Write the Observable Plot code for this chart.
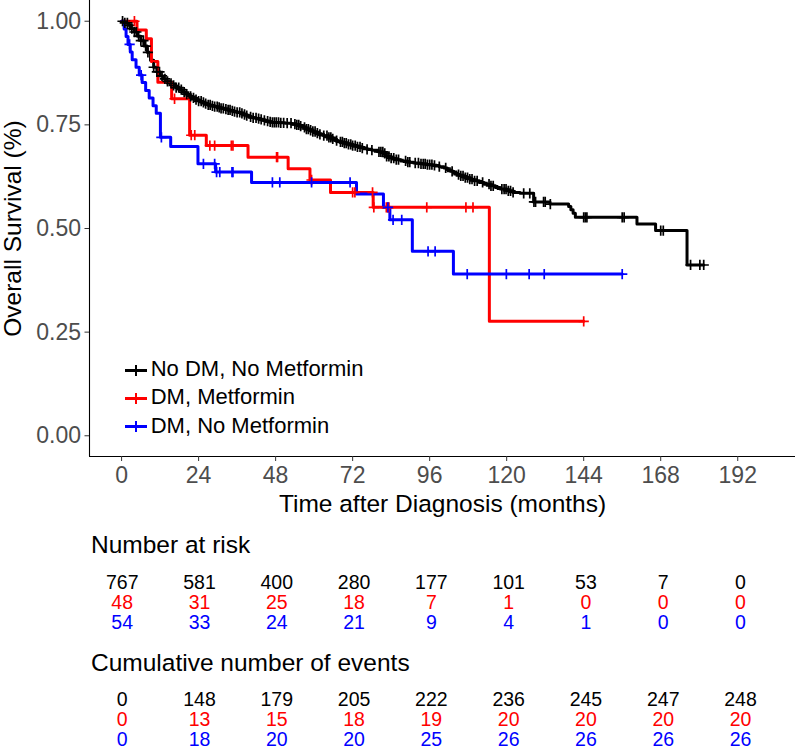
<!DOCTYPE html>
<html>
<head>
<meta charset="utf-8">
<script src="https://cdn.jsdelivr.net/npm/d3@7"></script>
<script src="https://cdn.jsdelivr.net/npm/@observablehq/plot@0.6"></script>
<style>
  body { margin: 0; background: #fff; font-family: "Liberation Sans", Arial, Helvetica, sans-serif; }
  #root { position: relative; width: 800px; height: 752px; overflow: hidden; background: #fff; }
  .hdr { position: absolute; left: 91px; font-size: 24.5px; line-height: 1; color: #000; white-space: nowrap; }
  .legend { position: absolute; left: 125px; top: 355px; font-size: 22px; line-height: 28.3px; color: #000; white-space: nowrap; }
  .row { height: 28.3px; }
  .key { display: inline-block; position: relative; width: 22px; height: 28.3px; vertical-align: top; margin-right: 3.7px; }
  .key .h { position: absolute; left: 0; top: 13.5px; width: 22px; height: 3px; }
  .key .v { position: absolute; left: 10px; top: 9.5px; width: 2px; height: 11px; }
</style>
</head>
<body>
<div id="root"></div>
<script>
// ---------- data ----------
const groups = ["No DM, No Metformin", "DM, Metformin", "DM, No Metformin"];
const colors = ["#000000", "#FF0000", "#0000FF"];

// Kaplan-Meier steps: time (months) and survival after each step
const noDmTime = [0,1,2,3,4,5,6,7,8,9,10,11,12,13,14,15,16,17,18,19,20,21,22,23,24,25,26,27,28,29,30,31,32,33,34,35,36,37,38,39,40,41,42,43,44,45,46,47,49,51,53,54.5,55.5,56.5,57.5,58.5,59.5,60.5,61.5,63,64.5,65.5,66.5,67.5,69,70.5,72,73.5,75,76.5,78,80,81.5,82.5,83.5,85,87,89,91,93,95,97,99,100.5,101.5,102.5,103.5,104.5,105.5,107,108.5,109.6,111.5,113,114.9,116.5,118,120.1,122,124.2,128.4,133.5,139.3,140,140.7,141.4,160.6,166.4,176.2];
const noDmSurv = [1,0.996,0.990,0.982,0.974,0.964,0.953,0.940,0.925,0.906,0.889,0.878,0.868,0.861,0.855,0.850,0.845,0.840,0.835,0.829,0.824,0.819,0.815,0.811,0.807,0.804,0.801,0.798,0.796,0.794,0.792,0.790,0.788,0.786,0.784,0.782,0.780,0.778,0.775,0.772,0.769,0.767,0.765,0.763,0.761,0.759,0.757,0.756,0.755,0.754,0.752,0.750,0.747,0.744,0.740,0.737,0.734,0.730,0.727,0.724,0.720,0.716,0.712,0.709,0.706,0.703,0.700,0.697,0.694,0.691,0.689,0.685,0.681,0.674,0.670,0.666,0.663,0.660,0.658,0.656,0.654,0.652,0.649,0.646,0.642,0.638,0.634,0.630,0.627,0.623,0.619,0.615,0.611,0.607,0.603,0.599,0.595,0.591,0.587,0.585,0.564,0.559,0.553,0.545,0.537,0.527,0.511,0.495,0.412];
const noDmCensor = [0.3,1,1.8,2.5,3.2,4,4.6,5.3,6,6.8,7.5,8.2,10,11,11.8,12.6,13.5,14.3,15.4,16.2,17,17.8,18.6,19.5,20.3,21.5,22.4,23.2,24,24.8,25.5,26.2,27,27.6,28.3,29,29.8,30.4,31,31.7,32.5,33.2,33.8,34.5,35.2,36,36.8,37.5,38.3,39,40.2,41,41.9,42.7,43.5,44.5,45.5,46.3,47,47.6,48.2,48.9,49.6,50.5,51.6,52.8,54,54.6,55.2,55.8,57,57.6,58.2,58.9,59.6,60.3,61,61.8,63,64,64.6,65.2,65.8,67,68.2,68.8,69.4,70,70.7,71.4,72,72.8,73.5,74.3,75,76.5,78,80.2,80.8,81.4,82,82.6,83.3,84,84.8,85.6,86.3,88.5,89.2,89.8,91.5,92.5,93.3,94,94.6,95.3,96,96.7,97.5,99,101,103,105,105.7,106.4,107.1,107.8,108.5,109.2,110,110.8,112.5,114.5,115.1,115.8,118.5,119.2,119.8,120.5,121.2,122,125.3,127.2,128.5,129,131.5,132,133.6,144,144.5,145,156,156.6,168,168.8,177.3,180.2,181.4];

const metTime = [0,4.8,7.7,9.3,11.3,15.6,21.2,26.4,39.4,51.9,58.7,65.1,78.4,114.6];
const metSurv = [1,0.979,0.958,0.903,0.853,0.813,0.725,0.700,0.672,0.644,0.617,0.587,0.551,0.276];
const metCensor = [4,16.5,21.7,22.8,27.5,29,34.2,34.7,48.3,48.6,59.2,72,72.7,78.2,78.6,82.5,82.9,83.3,95.1,107.3,109.5,144];

const noMetTime = [0,0.8,1.4,2,2.7,3.3,4.5,5.5,6.4,7.5,8.6,9.8,10.8,12.1,15.3,23.8,29.3,40.5,73.2,81.6,83.6,90.6,103.4];
const noMetSurv = [1,0.981,0.963,0.944,0.926,0.907,0.889,0.870,0.852,0.833,0.815,0.796,0.778,0.720,0.698,0.656,0.636,0.611,0.583,0.551,0.521,0.445,0.390];
const noMetCensor = [2.5,6.1,12.4,25.5,29,29.6,30.6,34.4,34.7,47,49.3,59.2,71.2,83,84.6,87.3,95.5,97.7,107.7,119.9,127,131.7,156];

const xTicks = [0,24,48,72,96,120,144,168,192];
const yTicks = [0,0.25,0.5,0.75,1];
const xDomain = [-10,210];
const yDomain = [-0.05,1.05];

const riskNoDm  = [767,581,400,280,177,101,53,7,0];
const riskMet   = [48,31,25,18,7,1,0,0,0];
const riskNoMet = [54,33,24,21,9,4,1,0,0];
const eventsNoDm  = [0,148,179,205,222,236,245,247,248];
const eventsMet   = [0,13,15,18,19,20,20,20,20];
const eventsNoMet = [0,18,20,20,25,26,26,26,26];

const xTitle = "Time after Diagnosis (months)";
const yTitle = "Overall Survival (%)";
const riskTitle = "Number at risk";
const eventsTitle = "Cumulative number of events";

// ---------- build tables ----------
const FONT = '"Liberation Sans", Arial, Helvetica, sans-serif';
const series = [
  {group: groups[0], time: noDmTime, surv: noDmSurv, cens: noDmCensor},
  {group: groups[1], time: metTime, surv: metSurv, cens: metCensor},
  {group: groups[2], time: noMetTime, surv: noMetSurv, cens: noMetCensor}
];
function stepAt(times, surv, t) {
  let v = surv[0];
  for (let i = 0; i < times.length; i++) { if (times[i] <= t) v = surv[i]; else break; }
  return v;
}
const curveRows = [];
const censorRows = [];
for (const s of series) {
  s.time.forEach((t, i) => curveRows.push({group: s.group, t, s: s.surv[i]}));
  const end = d3.max(s.cens);
  curveRows.push({group: s.group, t: end, s: s.surv[s.surv.length - 1]});
  s.cens.forEach(t => censorRows.push({group: s.group, t, s: stepAt(s.time, s.surv, t)}));
}
const riskArr = [riskNoDm, riskMet, riskNoMet];
const evArr = [eventsNoDm, eventsMet, eventsNoMet];
const riskRows = groups.flatMap((g, gi) => riskArr[gi].map((n, i) => ({group: g, t: xTicks[i], n})));
const eventRows = groups.flatMap((g, gi) => evArr[gi].map((n, i) => ({group: g, t: xTicks[i], n})));

const root = document.getElementById("root");

// ---------- main survival plot ----------
const main = Plot.plot({
  width: 800, height: 520,
  marginLeft: 89, marginRight: 5, marginTop: 0, marginBottom: 64,
  style: {fontFamily: FONT, background: "white", overflow: "visible"},
  x: {domain: xDomain},
  y: {domain: yDomain},
  color: {domain: groups, range: colors},
  marks: [
    Plot.line(curveRows, {x: "t", y: "s", z: "group", stroke: "group", curve: "step-after", strokeWidth: 3}),
    Plot.dot(censorRows, {x: "t", y: "s", stroke: "group", symbol: "plus", r: 3.4, strokeWidth: 1.7}),
    Plot.ruleX([xDomain[0]], {stroke: "black", strokeWidth: 1.1}),
    Plot.ruleY([yDomain[0]], {stroke: "black", strokeWidth: 1.1}),
    Plot.axisX({ticks: xTicks, tickSize: 5, tickPadding: 5, fontSize: 23, stroke: "#333333", fill: "#4d4d4d", label: null, tickFormat: d => String(d)}),
    Plot.axisY({ticks: yTicks, tickSize: 4.5, tickPadding: 4, fontSize: 23, stroke: "#333333", fill: "#4d4d4d", label: null, tickFormat: d3.format(".2f")}),
    Plot.text([xTitle], {frameAnchor: "bottom", dy: 55, lineAnchor: "bottom", textAnchor: "middle", fontSize: 24.5, fill: "black"}),
    Plot.text([yTitle], {frameAnchor: "left", rotate: -90, dx: -69, lineAnchor: "bottom", textAnchor: "middle", fontSize: 24.5, fill: "black"})
  ]
});
main.style.position = "absolute"; main.style.left = "0px"; main.style.top = "0px";
root.appendChild(main);

// ---------- legend (inside the panel) ----------
const legend = document.createElement("div");
legend.className = "legend";
groups.forEach((g, i) => {
  const row = document.createElement("div");
  row.className = "row";
  row.innerHTML = `<span class="key"><span class="h" style="background:${colors[i]}"></span><span class="v" style="background:${colors[i]}"></span></span><span>${g}</span>`;
  legend.appendChild(row);
});
root.appendChild(legend);

// ---------- tables ----------
function addHeader(text, top) {
  const d = document.createElement("div");
  d.className = "hdr";
  d.style.top = top + "px";
  d.textContent = text;
  root.appendChild(d);
}
function addTable(rows, top, height, yRange) {
  const p = Plot.plot({
    width: 800, height,
    marginLeft: 89.5, marginRight: 2, marginTop: 0, marginBottom: 0,
    style: {fontFamily: FONT, background: "transparent", overflow: "visible"},
    x: {domain: xDomain, axis: null},
    y: {type: "point", domain: groups, range: yRange, padding: 0, axis: null},
    color: {domain: groups, range: colors},
    marks: [
      Plot.text(rows, {x: "t", y: "group", text: "n", fill: "group", fontSize: 19.5})
    ]
  });
  p.style.position = "absolute"; p.style.left = "0px"; p.style.top = top + "px";
  root.appendChild(p);
}
addHeader(riskTitle, 533.3);
addTable(riskRows, 560, 75, [22, 62]);
addHeader(eventsTitle, 651);
addTable(eventRows, 676, 76, [23, 63]);
</script>
</body>
</html>
